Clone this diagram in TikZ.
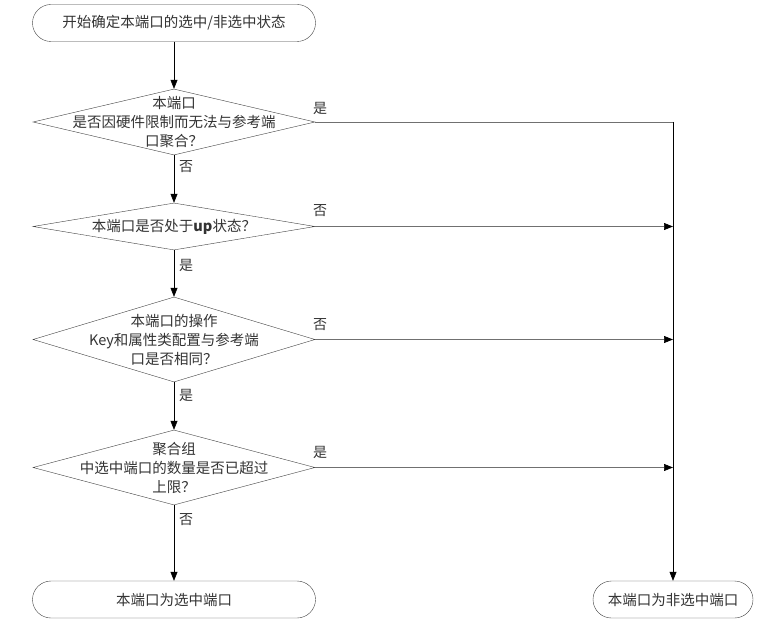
\documentclass[tikz,border=0pt]{standalone}
\usepackage{fontspec}
\setmainfont{Noto Sans CJK SC}
\usetikzlibrary{shapes.geometric,arrows.meta}
\definecolor{txtc}{HTML}{333333}
\definecolor{hline}{HTML}{707070}
\definecolor{edgec}{HTML}{404040}
\tikzset{
  term/.style={draw=edgec, rounded corners=18.5pt, minimum height=37pt, inner sep=0pt, text=txtc, font=\fontsize{14.5}{19}\selectfont},
  dia/.style={draw=edgec, shape=diamond, inner sep=0pt},
  dtxt/.style={align=center, text=txtc, font=\fontsize{14.5}{19}\selectfont, inner sep=0pt},
  lbl/.style={text=txtc, font=\fontsize{14}{16}\selectfont, inner sep=0pt},
  arr/.style={-{Triangle[length=9pt,width=7pt]}, black, line width=0.6pt},
  harr/.style={-{Triangle[length=9pt,width=7pt,color=black]}, draw=hline, line width=0.6pt},
}
\begin{document}
\begin{tikzpicture}[x=1pt,y=-1pt]
\useasboundingbox (0,0) rectangle (765,639);
\node[term, minimum width=283pt] (start) at (174,23) {开始确定本端口的选中/非选中状态};
\node[dia, minimum width=282pt, minimum height=66pt] (d1) at (174,122) {};
\node[dtxt] (t1) at (d1) {本端口\\是否因硬件限制而无法与参考端\\口聚合？};
\node[dia, minimum width=282pt, minimum height=47pt] (d2) at (174,226.5) {};
\node[dtxt] (t2) at (d2) {本端口是否处于\textbf{up}状态？};
\node[dia, minimum width=282pt, minimum height=85pt] (d3) at (174,339.5) {};
\node[dtxt] (t3) at (d3) {本端口的操作\\Key和属性类配置与参考端\\口是否相同？};
\node[dia, minimum width=282pt, minimum height=75pt] (d4) at (174,467.5) {};
\node[dtxt] (t4) at (d4) {聚合组\\中选中端口的数量是否已超过\\上限？};
\node[term, minimum width=283pt] (yes) at (174,599.5) {本端口为选中端口};
\node[term, minimum width=160pt] (no) at (673,599.5) {本端口为非选中端口};
\coordinate (c1) at (673,122);
\coordinate (c2) at (673,226.5);
\coordinate (c3) at (673,339.5);
\coordinate (c4) at (673,467.5);

\draw[arr] (start.south) -- (d1.north);
\draw[arr] (d1.south) -- (d2.north);
\draw[arr] (d2.south) -- (d3.north);
\draw[arr] (d3.south) -- (d4.north);
\draw[arr] (d4.south) -- (yes.north);

\draw[hline, line width=0.6pt] (d1.east) -- (c1);
\draw[arr] (c1) -- (no.north);
\draw[harr] (d2.east) -- (c2);
\draw[harr] (d3.east) -- (c3);
\draw[harr] (d4.east) -- (c4);

\node[lbl] (l1) at (186,167) {否};
\node[lbl] (l2) at (186,265) {是};
\node[lbl] (l3) at (186,395) {是};
\node[lbl] (l4) at (186,520) {否};
\node[lbl] (r1) at (320,108) {是};
\node[lbl] (r2) at (320,211) {否};
\node[lbl] (r3) at (320,325) {否};
\node[lbl] (r4) at (320,452) {是};
\end{tikzpicture}
\end{document}
